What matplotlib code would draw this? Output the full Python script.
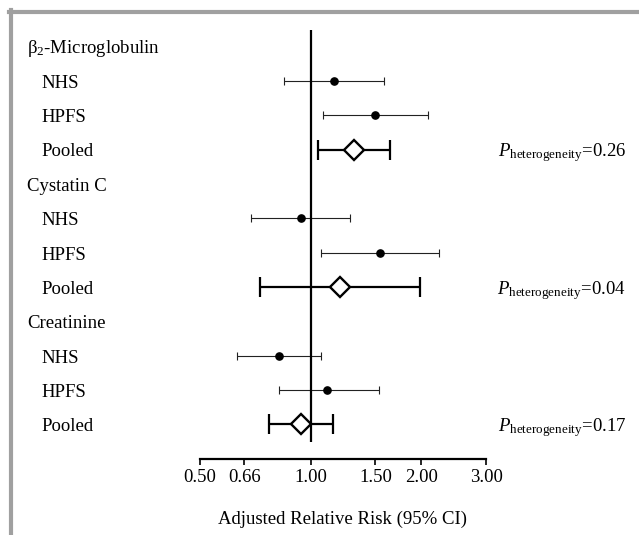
import numpy as np
import matplotlib
matplotlib.use('Agg')
import matplotlib.pyplot as plt
from matplotlib.lines import Line2D
import matplotlib.transforms as mtransforms

plt.rcParams['font.family'] = ['Liberation Serif', 'DejaVu Serif']
plt.rcParams['mathtext.fontset'] = 'custom'
plt.rcParams['mathtext.rm'] = 'Liberation Serif'
plt.rcParams['mathtext.it'] = 'Liberation Serif:italic'

# 标记与数据
groups = ["β$_2$-Microglobulin", "Cystatin C", "Creatinine"]
studies = ["NHS", "HPFS", "Pooled"]
rr = [[1.16, 1.50, 1.31],
      [0.94, 1.54, 1.20],
      [0.82, 1.11, 0.94]]
ci_low = [[0.847, 1.08, 1.05],
          [0.69, 1.07, 0.73],
          [0.63, 0.82, 0.77]]
ci_high = [[1.58, 2.08, 1.64],
           [1.28, 2.23, 1.99],
           [1.07, 1.53, 1.15]]
p_het = ["0.26", "0.04", "0.17"]
ticks = [0.50, 0.66, 1.00, 1.50, 2.00, 3.00]
tick_labels = ["0.50", "0.66", "1.00", "1.50", "2.00", "3.00"]

W, H = 639, 535
FS = 13.5
BASE = 0.2  # 文字基线相对行中心的偏移

fig = plt.figure(figsize=(W / 100, H / 100), dpi=100)
ax_top, ax_bot = 30, 459
ax = fig.add_axes([200 / W, (H - ax_bot) / H, 286 / W, (ax_bot - ax_top) / H])
ax.set_xscale('log')
ax.set_xlim(0.5, 3.0)
ax.set_ylim(12.005, -0.48)

lab_tr = mtransforms.blended_transform_factory(fig.transFigure, ax.transData)

row = 0
for g in range(len(groups)):
    ax.text(27 / W, row + BASE, groups[g], transform=lab_tr, fontsize=FS, va='baseline', ha='left')
    row += 1
    for s in range(len(studies)):
        ax.text(41 / W, row + BASE, studies[s], transform=lab_tr, fontsize=FS, va='baseline', ha='left')
        x, lo, hi = rr[g][s], ci_low[g][s], ci_high[g][s]
        if studies[s] == "Pooled":
            ax.errorbar([x], [row], xerr=[[x - lo], [hi - x]], fmt='none', ecolor='black',
                        elinewidth=1.6, capsize=7, capthick=1.6, zorder=2)
            ax.plot([x], [row], marker='D', ms=10.2, mfc='white', mec='black', mew=1.7,
                    ls='none', zorder=3)
            ax.text(626 / W, row + BASE, r'$P_{\mathrm{heterogeneity}}$=' + p_het[g], transform=lab_tr,
                    fontsize=FS, va='baseline', ha='right')
        else:
            ax.errorbar([x], [row], xerr=[[x - lo], [hi - x]], fmt='none', ecolor='#222222',
                        elinewidth=0.8, capsize=2.7, capthick=0.8, zorder=2)
            ax.plot([x], [row], marker='o', ms=5.2, color='black', ls='none', zorder=3)
        row += 1

ax.plot([1, 1], [-0.48, 11.5], color='black', lw=1.6, zorder=4, solid_capstyle='butt')

for side in ['top', 'left', 'right']:
    ax.spines[side].set_visible(False)
ax.spines['bottom'].set_linewidth(1.6)
ax.set_yticks([])
ax.set_xticks(ticks)
ax.set_xticklabels(tick_labels, fontsize=FS)
ax.minorticks_off()
ax.tick_params(axis='x', which='major', direction='out', length=4, width=1.2, pad=3)
ax.set_xlabel('Adjusted Relative Risk (95% CI)', fontsize=FS, labelpad=18)
ax.patch.set_visible(False)

# 灰色边框
fig.add_artist(Line2D([9 / W, 1], [(H - 12) / H] * 2, color='#a0a0a0', lw=3, transform=fig.transFigure))
fig.add_artist(Line2D([11 / W] * 2, [(H - 10) / H, 0], color='#a0a0a0', lw=3, transform=fig.transFigure))

fig.savefig('out.png', dpi=100)
plt.close(fig)
